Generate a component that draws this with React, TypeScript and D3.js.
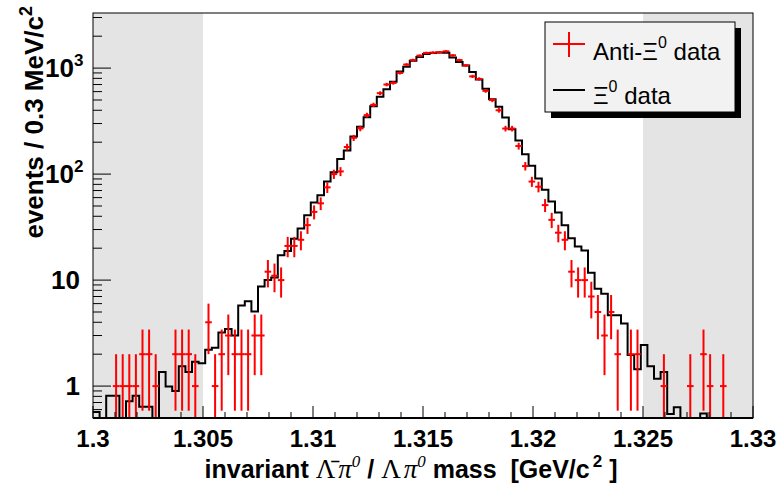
import React from "react";
import * as d3 from "d3";

const W = 784;
const H = 488;
const X_MIN = 1.3;
const X_MAX = 1.33;
const BIN_W = 0.0003;
const Y_MIN = 0.5;
const Y_MAX = 3310;

// Xi0 data (black histogram), one value per 0.3 MeV bin from 1.300 to 1.330
const xiValues = [
  0.57, 0, 0.81, 0.81, 0, 0.72, 0.81, 0.64, 0.64, 0,
  1.36, 0.99, 0.9, 1.54, 1.36, 1.7, 1.64, 2.2, 2.3, 3.2,
  3.45, 3.0, 5.75, 6.3, 5.05, 8.7, 10.0, 10.6, 17.2, 18.8,
  24.6, 30.7, 41, 54, 63, 85, 104, 139, 167, 226,
  280, 343, 437, 536, 630, 742, 928, 1030, 1170, 1270,
  1355, 1390, 1400, 1395, 1260, 1140, 1060, 920, 780, 640,
  507, 432, 342, 265, 207, 154, 120, 91, 71, 55,
  43.5, 33, 24.8, 20.8, 19, 11.7, 8.3, 7.45, 4.67, 4.67,
  3.9, 1.97, 1.44, 2.44, 1.54, 1.17, 1.36, 0.545, 0.63, 0,
  0, 0, 0.55, 0, 0, 0, 0, 0, 0, 0,
];

// Anti-Xi0 data (red points), event counts per bin
const antiValues = [
  0, 0, 0, 1, 1, 1, 1, 2, 2, 1,
  0, 0, 2, 2, 2, 1, 0, 4, 1, 2,
  3, 2, 2, 2, 3, 3, 12, 11, 10, 21,
  21, 24, 33, 44, 53, 75, 100, 106, 180, 220,
  270, 360, 450, 580, 700, 725, 900, 1080, 1190, 1310,
  1390, 1400, 1410, 1440, 1320, 1190, 1060, 835, 790, 610,
  500, 400, 269, 269, 184, 119, 85, 76, 51, 37,
  28, 24, 12, 10, 10, 7, 5, 3, 5, 2,
  0, 2, 2, 0, 0, 0, 1, 0, 0, 0,
  1, 0, 2, 1, 0, 1, 0, 0, 0, 0,
];

const xTickValues = [1.3, 1.305, 1.31, 1.315, 1.32, 1.325, 1.33];
const xTickLabels = ["1.3", "1.305", "1.31", "1.315", "1.32", "1.325", "1.33"];
const yMajorValues = [1, 10, 100, 1000];
const yMajorBases = ["1", "10", "10", "10"];
const yMajorSups = ["", "", "2", "3"];
const shadedRanges = [
  [1.3, 1.305],
  [1.325, 1.33],
];
const legendNames = ["Anti-\u039E", "\u039E"];

const LEFT = 93;
const RIGHT = 753;
const TOP = 13;
const BOTTOM = 418;

export default function App() {
  const x = d3.scaleLinear().domain([X_MIN, X_MAX]).range([LEFT, RIGHT]);
  const y = d3.scaleLog().domain([Y_MIN, Y_MAX]).range([BOTTOM, TOP]);
  const yv = (v: number) => (v >= Y_MIN ? y(v) : BOTTOM);

  const edges = xiValues.map((_, i) => X_MIN + i * BIN_W);

  // histogram outline
  let hist = `M${x(edges[0])},${yv(xiValues[0])}`;
  xiValues.forEach((v, i) => {
    hist += `H${x(edges[i] + BIN_W)}`;
    if (i < xiValues.length - 1) hist += `V${yv(xiValues[i + 1])}`;
  });

  // minor ticks
  const xMinor = d3.range(0, 31).map((k) => X_MIN + k * 0.001);
  const yTicks: { v: number; major: boolean }[] = [];
  for (let e = -1; e <= 3; e++) {
    for (let m = 1; m <= 9; m++) {
      const v = m * Math.pow(10, e);
      if (v >= Y_MIN && v <= Y_MAX) yTicks.push({ v, major: m === 1 && e >= 0 });
    }
  }

  const sans = "'Liberation Sans', Arial, Helvetica, sans-serif";
  const serif = "'Liberation Serif', 'Times New Roman', serif";

  return (
    <svg
      width={W}
      height={H}
      style={{ position: "absolute", left: 0, top: 0, display: "block", background: "#fff" }}
      fontFamily={sans}
    >
      <defs>
        <clipPath id="plotClip">
          <rect x={LEFT} y={TOP} width={RIGHT - LEFT} height={BOTTOM - TOP} />
        </clipPath>
      </defs>
      <rect x={0} y={0} width={W} height={H} fill="#fff" />
      {shadedRanges.map((r, i) => (
        <rect
          key={i}
          x={x(r[0])}
          y={TOP}
          width={x(r[1]) - x(r[0])}
          height={BOTTOM - TOP}
          fill="#e4e4e4"
        />
      ))}

      <g clipPath="url(#plotClip)">
        <path d={hist} fill="none" stroke="#000" strokeWidth={2} />
        {antiValues.map((n, i) => {
          if (n <= 0) return null;
          const err = Math.sqrt(n);
          const cx = x(edges[i] + BIN_W / 2);
          return (
            <g key={i} stroke="#ff0000" strokeWidth={2}>
              <line x1={cx} x2={cx} y1={y(n + err)} y2={yv(n - err)} />
              <line x1={x(edges[i])} x2={x(edges[i] + BIN_W)} y1={y(n)} y2={y(n)} />
            </g>
          );
        })}
      </g>

      {/* frame */}
      <rect x={LEFT} y={TOP} width={RIGHT - LEFT} height={BOTTOM - TOP} fill="none" stroke="#000" strokeWidth={1} />
      <line x1={LEFT} x2={RIGHT} y1={BOTTOM} y2={BOTTOM} stroke="#000" strokeWidth={2} />

      {/* x ticks */}
      {xMinor.map((v, i) => {
        const major = i % 5 === 0;
        return (
          <line key={i} x1={x(v)} x2={x(v)} y1={BOTTOM} y2={BOTTOM - (major ? 12 : 6)} stroke="#000" strokeWidth={1} />
        );
      })}
      {xTickValues.map((v, i) => (
        <text key={i} x={x(v)} y={447} textAnchor="middle" fontWeight="bold" fontSize={24}>
          {xTickLabels[i]}
        </text>
      ))}

      {/* y ticks */}
      {yTicks.map((t, i) => (
        <line key={i} x1={LEFT} x2={LEFT + (t.major ? 18 : 9)} y1={y(t.v)} y2={y(t.v)} stroke="#000" strokeWidth={1} />
      ))}
      {yMajorValues.map((v, i) => (
        <g key={i}>
          <text x={yMajorSups[i] ? 74 : 80} y={y(v) + 9} textAnchor="end" fontWeight="bold" fontSize={26}>
            {yMajorBases[i]}
          </text>
          {yMajorSups[i] ? (
            <text x={74} y={y(v) - 2} fontWeight="bold" fontSize={17}>
              {yMajorSups[i]}
            </text>
          ) : null}
        </g>
      ))}

      {/* axis titles */}
      <text transform="translate(43,6) rotate(-90)" textAnchor="end" fontWeight="bold" fontSize={26}>
        events / 0.3 MeV/c
        <tspan dy={-11} fontSize={18}>2</tspan>
      </text>

      <text x={411} y={478} textAnchor="middle" fontWeight="bold" fontSize={25} style={{ whiteSpace: "pre" }}>
        {"invariant "}
        <tspan fontFamily={serif} fontWeight="normal" fontSize={27}>
          {"\u039B\u0304"}
        </tspan>
        <tspan fontFamily={serif} fontWeight="normal" fontStyle="italic" fontSize={27} dx={3}>
          {"\u03C0"}
        </tspan>
        <tspan fontFamily={serif} fontWeight="normal" fontStyle="italic" fontSize={17} dy={-11}>0</tspan>
        <tspan dy={11}>{" / "}</tspan>
        <tspan fontFamily={serif} fontWeight="normal" fontSize={27}>
          {"\u039B"}
        </tspan>
        <tspan fontFamily={serif} fontWeight="normal" fontStyle="italic" fontSize={27} dx={3}>
          {"\u03C0"}
        </tspan>
        <tspan fontFamily={serif} fontWeight="normal" fontStyle="italic" fontSize={17} dy={-11}>0</tspan>
        <tspan dy={11}>{" mass  [GeV/c"}</tspan>
        <tspan dy={-11} dx={3} fontSize={17}>2</tspan>
        <tspan dy={11}>{" ]"}</tspan>
      </text>

      {/* legend */}
      <rect x={551} y={28} width={190} height={90} fill="#000" />
      <rect x={545} y={22} width={190} height={90} fill="#f2f2f2" stroke="#000" strokeWidth={1} />
      <line x1={553} x2={585} y1={44} y2={44} stroke="#ff0000" strokeWidth={2} />
      <line x1={569} x2={569} y1={32} y2={57} stroke="#ff0000" strokeWidth={2} />
      <text x={593} y={60} fontSize={24}>
        {legendNames[0]}
        <tspan dy={-12} fontSize={16}>0</tspan>
        <tspan dy={12}> data</tspan>
      </text>
      <line x1={553} x2={585} y1={90} y2={90} stroke="#000" strokeWidth={2} />
      <text x={593} y={104} fontSize={24}>
        {legendNames[1]}
        <tspan dy={-12} fontSize={16}>0</tspan>
        <tspan dy={12}> data</tspan>
      </text>
    </svg>
  );
}
